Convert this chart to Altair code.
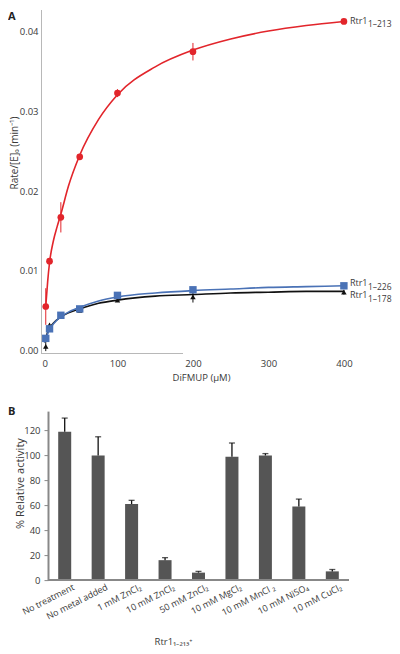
import altair as alt
import pandas as pd

# ---------------- Panel A data ----------------
conc = [5, 10, 25, 50, 100, 200, 400]
rate_213 = [0.0055, 0.0112, 0.0167, 0.0243, 0.0323, 0.0375, 0.0413]
err_213 = [0.0023, 0.0004, 0.0019, 0.0002, 0.0005, 0.0011, 0.0003]
rate_226 = [0.0015, 0.0027, 0.0044, 0.0052, 0.0069, 0.0076, 0.0081]
err_226 = [0.0004, 0.0003, 0.0002, 0.0003, 0.0002, 0.0002, 0.0002]
rate_178 = [0.0005, 0.0032, 0.0043, 0.0050, 0.0063, 0.0067, 0.0073]
err_178 = [0.0006, 0.0002, 0.0002, 0.0002, 0.0002, 0.0007, 0.0003]

# fitted curves
fit_213_x = [5, 7.5, 10, 15, 20, 25, 35, 50, 75, 100, 150, 200, 250, 300, 350, 400]
fit_213_y = [0.0055, 0.0086, 0.0110, 0.0137, 0.0155, 0.0171, 0.0206, 0.0245,
             0.0290, 0.0321, 0.0356, 0.0377, 0.0391, 0.0401, 0.0408, 0.0413]
fit_x = [3, 5, 10, 15, 25, 35, 50, 75, 100, 150, 200, 250, 300, 350, 400]
fit_226_y = [0.0010, 0.0015, 0.0026, 0.0033, 0.0042, 0.0048, 0.0054, 0.0062,
             0.0067, 0.0072, 0.0075, 0.0077, 0.0079, 0.0080, 0.0081]
fit_178_y = [0.0010, 0.0016, 0.0028, 0.0034, 0.0042, 0.0047, 0.0052, 0.0059,
             0.0063, 0.0068, 0.0070, 0.0072, 0.0073, 0.0074, 0.0074]

x_ticks = [0, 100, 200, 300, 400]
y_ticks = [0.0, 0.01, 0.02, 0.03, 0.04]

# ---------------- Panel B data ----------------
conditions = ["No treatment", "No metal added", "1 mM ZnCl₂", "10 mM ZnCl₂",
              "50 mM ZnCl₂", "10 mM MgCl₂", "10 mM MnCl ₂", "10 mM NiSO₄",
              "10 mM CuCl₂"]
activity = [119, 100, 61, 16, 6, 99, 100, 59, 7]
activity_err = [11, 15, 3, 2, 1, 11, 1.5, 6, 1.5]
act_ticks = [0, 20, 40, 60, 80, 100, 120]

FONT = "Open Sans"
TXT = "#3a3a3a"
RED = "#e2252b"
BLUE = "#4a72b6"
BLACK = "#111111"
GREY_AX = "#b8b8b8"

# ---------------- Panel A ----------------
WA, HA = 318, 344
xA = alt.Scale(domain=[-1.3, 420], nice=False, zero=False)
yA = alt.Scale(domain=[-0.0004, 0.0428], nice=False, zero=False)
axA_x = alt.Axis(values=x_ticks, format="d", title="DiFMUP (μM)", domain=False,
                 ticks=False, labelPadding=5, labelFontSize=9.5, titleFontSize=9.5,
                 labelOverlap=False,
                 titleX=160, titleY=24, titleBaseline="middle", titleAlign="center")
axA_y = alt.Axis(values=y_ticks, format=".2f", title="Rate/[E]₀ (min⁻¹)",
                 domainColor=GREY_AX, domainWidth=1, ticks=False, labelPadding=3,
                 labelOverlap=False,
                 labelFontSize=9.5, titleFontSize=10, titleX=-27, titleY=143,
                 titleBaseline="middle", titleAlign="center")


def X(f):
    return alt.X(f, type="quantitative", scale=xA, axis=axA_x)


def Y(f):
    return alt.Y(f, type="quantitative", scale=yA, axis=axA_y)


def series(rates, errs, fx, fy, color, shape, size, sub, dy1, dy2):
    pts = pd.DataFrame({
        "x": conc, "y": rates,
        "lo": [r - e for r, e in zip(rates, errs)],
        "hi": [r + e for r, e in zip(rates, errs)],
    })
    fit = pd.DataFrame({"x": fx, "y": fy})
    lab = pd.DataFrame({"x": [conc[-1]], "y": [rates[-1]]})
    line = alt.Chart(fit).mark_line(color=color, strokeWidth=1.6,
                                    interpolate="monotone").encode(x=X("x"), y=Y("y"))
    ebar = alt.Chart(pts).mark_rule(color=color, strokeWidth=1).encode(
        x=X("x"), y=Y("lo"), y2="hi")
    mk = alt.Chart(pts).mark_point(shape=shape, filled=True, size=size, color=color,
                                   opacity=1).encode(x=X("x"), y=Y("y"))
    t1 = alt.Chart(lab).mark_text(text="Rtr1", align="left", baseline="alphabetic",
                                  dx=6, dy=dy1, fontSize=9, font=FONT,
                                  color=TXT).encode(x=X("x"), y=Y("y"))
    t2 = alt.Chart(lab).mark_text(text=sub, align="left", baseline="alphabetic",
                                  dx=24, dy=dy2, fontSize=8.5, font=FONT,
                                  color=TXT).encode(x=X("x"), y=Y("y"))
    return [line, ebar, mk, t1, t2]


layers_A = []
layers_A += series(rate_178, err_178, fit_x, fit_178_y, BLACK, "triangle-up", 30, "1–178", 6, 10)
layers_A += series(rate_226, err_226, fit_x, fit_226_y, BLUE, "square", 55, "1–226", 0, 4.5)
layers_A += series(rate_213, err_213, fit_213_x, fit_213_y, RED, "circle", 45, "1–213", 3, 5.5)

one = pd.DataFrame({"t": ["A"]})
x_axis_line = alt.Chart(one).mark_rule(color=GREY_AX, strokeWidth=1).encode(
    x=alt.value(0), x2=alt.value(142), y=alt.value(HA))
letter_A = alt.Chart(one).mark_text(text="A", align="left", baseline="alphabetic",
                                    fontSize=11, fontWeight="bold", font=FONT,
                                    color="#222").encode(x=alt.value(-33), y=alt.value(10))

chart_A = alt.layer(x_axis_line, *layers_A, letter_A).properties(width=WA, height=HA)

# ---------------- Panel B ----------------
WB, HB = 315, 169
yscaleB = alt.Scale(domain=[0, 135.6], nice=False)
axB_y = alt.Axis(values=act_ticks, title="% Relative activity", offset=-7,
                 tickSize=4, tickColor="#888", domainColor="#888", domainWidth=2,
                 labelOverlap=False,
                 labelPadding=4, labelFontSize=9.5, titleFontSize=11,
                 titleX=-28, titleY=72, titleBaseline="middle", titleAlign="center")
bdf = pd.DataFrame({
    "cond": conditions, "act": activity,
    "hi": [a + e for a, e in zip(activity, activity_err)],
})
xB = alt.X("cond:N", sort=conditions,
           scale=alt.Scale(paddingInner=0.611, paddingOuter=0.514),
           axis=alt.Axis(title="Rtr1₁₋₂₁₃⁺", labelAngle=-27, labelAlign="right",
                         labelBaseline="middle", labelOffset=9, labelPadding=6,
                         ticks=False, domain=False, labelFontSize=9, labelLimit=0,
                         labelOverlap=False,
                         titleFontSize=9.5, titleX=132, titleY=61, titleBaseline="middle",
                         titleAlign="center"))


def YB(f):
    return alt.Y(f, type="quantitative", scale=yscaleB, axis=axB_y)


bars = alt.Chart(bdf).mark_bar(color="#555555", width=13).encode(x=xB, y=YB("act"))
err_b = alt.Chart(bdf).mark_rule(color="#111", strokeWidth=1.3).encode(
    x=xB, y=YB("act"), y2="hi")
cap_b = alt.Chart(bdf).mark_tick(color="#111", thickness=1.3, size=6).encode(
    x=xB, y=YB("hi"))
base_b = alt.Chart(one).mark_rule(color="#888", strokeWidth=2).encode(
    x=alt.value(7), x2=alt.value(308), y=alt.value(HB))
letter_B = alt.Chart(one).mark_text(text="B", align="left", baseline="alphabetic",
                                    fontSize=11, fontWeight="bold", font=FONT,
                                    color="#222").encode(x=alt.value(-33), y=alt.value(4))

chart_B = alt.layer(bars, err_b, cap_b, base_b, letter_B).properties(width=WB, height=HB)

chart = alt.vconcat(chart_A, chart_B, spacing=23.6).properties(
    padding={"top": 1.5, "left": 0, "right": 0, "bottom": 0}).configure_view(
    stroke=None).configure_axis(grid=False, labelFont=FONT, titleFont=FONT,
                                labelColor=TXT, titleColor=TXT, titleFontWeight="normal")

chart.save("out.html", embed_options={"renderer": "svg", "actions": False})
